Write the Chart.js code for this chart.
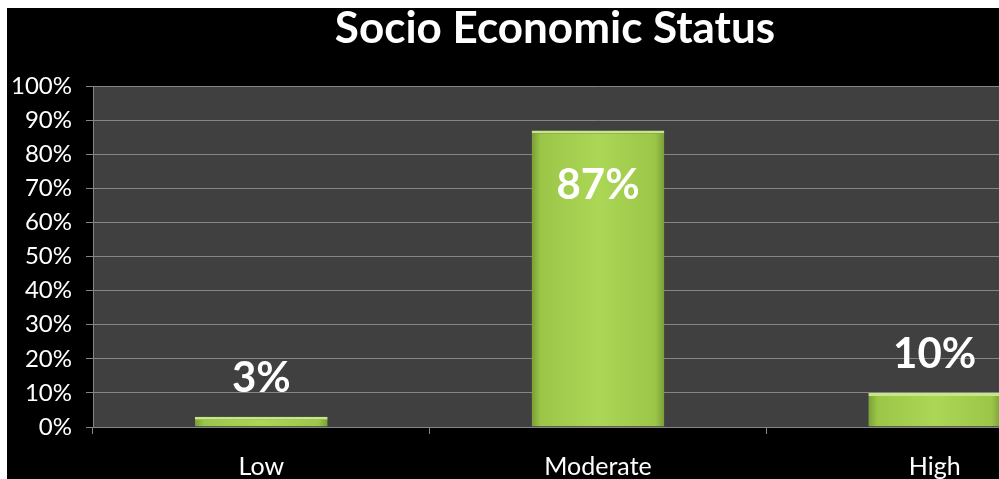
<!DOCTYPE html>
<html lang="en">
<head>
    <meta charset="UTF-8">
    <title>Socio Economic Status</title>
    <style>
        body {
            margin: 0;
            background-color: #ffffff;
            overflow: hidden;
            width: 999px;
            height: 479px;
            position: relative;
        }
        .chart-box {
            position: absolute;
            left: 7px;
            top: 8px;
            width: 1096px;
            height: 471px;
            background-color: #000000;
        }
    </style>
</head>
<body>
    <div class="chart-box">
        <canvas id="sesChart" width="1096" height="471"></canvas>
    </div>
    <script src="https://cdn.jsdelivr.net/npm/chart.js"></script>
    <script>
        const categories = ['Low', 'Moderate', 'High'];
        const percentValues = [3, 87, 10];
        const tickLabels = ['0%', '10%', '20%', '30%', '40%', '50%', '60%', '70%', '80%', '90%', '100%'];

        const fontName = 'Lato, "Open Sans", sans-serif';
        const gridGray = '#858585';

        // dark plot background
        const plotBackground = {
            id: 'plotBackground',
            beforeDraw(chart) {
                const { ctx, chartArea } = chart;
                ctx.save();
                ctx.fillStyle = '#404040';
                ctx.fillRect(chartArea.left, chartArea.top, chartArea.right - chartArea.left, chartArea.bottom - chartArea.top);
                ctx.restore();
            }
        };

        // value labels: inside tall bars, above short ones
        const valueLabels = {
            id: 'valueLabels',
            afterDatasetsDraw(chart) {
                const { ctx } = chart;
                const meta = chart.getDatasetMeta(0);
                ctx.save();
                ctx.font = 'bold 42px ' + fontName;
                ctx.fillStyle = '#ffffff';
                ctx.textAlign = 'center';
                ctx.textBaseline = 'middle';
                meta.data.forEach((bar, i) => {
                    const v = percentValues[i];
                    const y = v > 50 ? bar.y + 55 : bar.y - 38;
                    ctx.fillText(v + '%', bar.x, y);
                });
                ctx.restore();
            }
        };

        function barFill(context) {
            const chart = context.chart;
            const xScale = chart.scales.x;
            if (!xScale || xScale.width === undefined || context.dataIndex === undefined) {
                return '#a3cc4c';
            }
            const cx = xScale.getPixelForValue(context.dataIndex);
            const half = (xScale.width / categories.length) * 0.394 / 2;
            const g = chart.ctx.createLinearGradient(cx - half, 0, cx + half, 0);
            g.addColorStop(0, '#7a9f38');
            g.addColorStop(0.07, '#9cc647');
            g.addColorStop(0.5, '#acd656');
            g.addColorStop(0.93, '#9cc647');
            g.addColorStop(1, '#7a9f38');
            return g;
        }

        const ctx = document.getElementById('sesChart').getContext('2d');
        const sesChart = new Chart(ctx, {
            type: 'bar',
            data: {
                labels: categories,
                datasets: [{
                    data: percentValues,
                    backgroundColor: barFill,
                    borderColor: '#c6e882',
                    borderWidth: { top: 3, left: 0, right: 0, bottom: 0 },
                    borderSkipped: false,
                    categoryPercentage: 1,
                    barPercentage: 0.394
                }]
            },
            options: {
                responsive: false,
                animation: false,
                devicePixelRatio: 1,
                layout: { padding: 0 },
                plugins: {
                    legend: { display: false },
                    tooltip: { enabled: false },
                    title: {
                        display: true,
                        text: 'Socio Economic Status',
                        color: '#ffffff',
                        font: { family: fontName, size: 44, weight: 'bold', lineHeight: 0.8 },
                        padding: { top: 3, bottom: 40 }
                    }
                },
                scales: {
                    x: {
                        offset: true,
                        grid: {
                            offset: true,
                            drawOnChartArea: false,
                            drawTicks: true,
                            tickLength: 7,
                            color: gridGray
                        },
                        border: { color: gridGray },
                        ticks: {
                            color: '#ffffff',
                            padding: 18,
                            font: { family: fontName, size: 25 }
                        },
                        afterFit(scale) { scale.height = 52; }
                    },
                    y: {
                        min: 0,
                        max: 100,
                        grid: {
                            color: gridGray,
                            tickLength: 7
                        },
                        border: { color: gridGray },
                        ticks: {
                            stepSize: 10,
                            color: '#ffffff',
                            padding: 14,
                            font: { family: fontName, size: 24 },
                            callback: (value, index) => tickLabels[index]
                        },
                        afterFit(scale) { scale.width = 86; }
                    }
                }
            },
            plugins: [plotBackground, valueLabels]
        });
    </script>
</body>
</html>
